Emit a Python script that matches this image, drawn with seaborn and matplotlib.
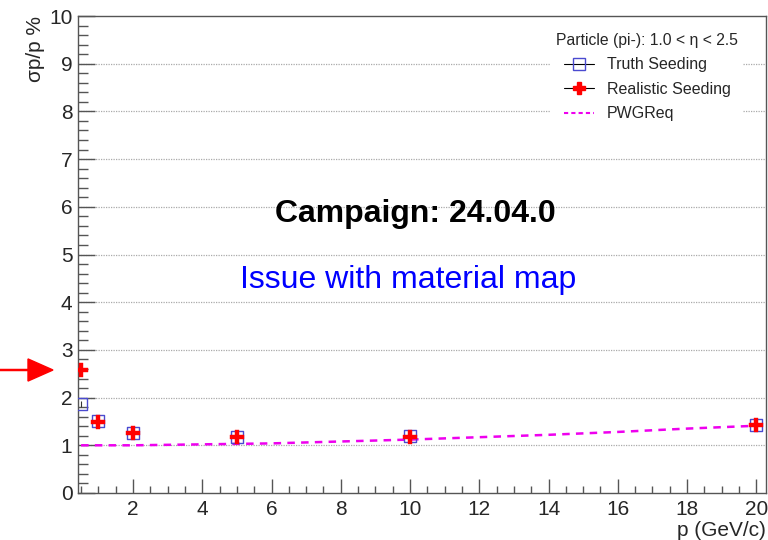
import matplotlib
matplotlib.use("Agg")
import matplotlib.pyplot as plt
from matplotlib.lines import Line2D
import seaborn as sns
import pandas as pd
import numpy as np

# ---- data ----
p_values = [0.5, 1, 2, 5, 10, 20]
truth_res = [1.86, 1.51, 1.26, 1.18, 1.19, 1.43]
truth_err = [0.06, 0.04, 0.03, 0.03, 0.03, 0.03]
real_res = [2.58, 1.48, 1.25, 1.17, 1.18, 1.42]
real_err = [0.06, 0.04, 0.03, 0.03, 0.03, 0.03]
pwg_p = [0.5, 2, 4, 6, 8, 10, 12, 14, 16, 18, 20]
pwg_res = [1.00, 1.00, 1.02, 1.04, 1.08, 1.12, 1.17, 1.22, 1.28, 1.35, 1.41]
x_ticks = [2, 4, 6, 8, 10, 12, 14, 16, 18, 20]
y_ticks = [0, 1, 2, 3, 4, 5, 6, 7, 8, 9, 10]

sns.set_theme(style="white")
plt.rcParams['font.family'] = ['Liberation Sans', 'DejaVu Sans']

fig = plt.figure(figsize=(7.68, 5.4), dpi=100)
ax = fig.add_axes([78 / 768, 1 - 493 / 540, (766 - 78) / 768, (493 - 16) / 540])

truth_col = '#4a4ad0'
real_col = '#ff0000'

df_t = pd.DataFrame({'p': p_values, 'res': truth_res})
df_r = pd.DataFrame({'p': p_values, 'res': real_res})
df_pwg = pd.DataFrame({'p': pwg_p, 'res': pwg_res})

# gridlines (horizontal only)
for yv in y_ticks[1:-1]:
    ax.axhline(yv, color='#aaaaaa', lw=0.9, ls=(0, (1, 1)), zorder=0)

sns.lineplot(data=df_pwg, x='p', y='res', ax=ax, color='#ee00ee', lw=1.8,
             linestyle=(0, (3, 2.5)), zorder=2)

ax.errorbar(p_values, truth_res, yerr=truth_err, fmt='none', ecolor='#333333', elinewidth=0.8, zorder=3)
ax.errorbar(p_values, real_res, yerr=real_err, fmt='none', ecolor='#333333', elinewidth=0.8, zorder=3)

sns.scatterplot(data=df_t, x='p', y='res', ax=ax, marker='s', s=75,
                facecolor='none', edgecolor=truth_col, linewidth=1.0, zorder=4)
sns.scatterplot(data=df_r, x='p', y='res', ax=ax, marker='P', s=95,
                color=real_col, edgecolor=real_col, linewidth=0.3, zorder=5)

ax.set_xlim(0.41, 20.28)
ax.set_ylim(0, 10)
ax.set_xticks(x_ticks)
ax.set_xticklabels([str(v) for v in x_ticks])
ax.set_yticks(y_ticks)
ax.set_yticklabels([str(v) for v in y_ticks])
ax.set_xticks(np.arange(0.5, 20.3, 0.5), minor=True)
ax.set_yticks(np.arange(0, 10.01, 0.2), minor=True)

ax.tick_params(axis='x', which='major', direction='in', length=10, width=1, color='#555555',
               labelsize=15, pad=5, bottom=True, top=False)
ax.tick_params(axis='x', which='minor', direction='in', length=5, width=1, color='#555555',
               bottom=True, top=False)
ax.tick_params(axis='y', which='major', direction='in', length=12, width=1, color='#555555',
               labelsize=15, pad=4, left=True, right=False)
ax.tick_params(axis='y', which='minor', direction='in', length=7, width=1, color='#555555',
               left=True, right=False)
for s in ax.spines.values():
    s.set_color('#555555')
    s.set_linewidth(1.0)

ax.set_xlabel('p (GeV/c)', fontsize=15, loc='right')
ax.xaxis.set_label_coords(1.0, -0.058)
ax.set_ylabel('σp/p %', fontsize=15, loc='top')
ax.yaxis.set_label_coords(-0.048, 1.0)

ax.text(10.15, 5.85, 'Campaign: 24.04.0', fontsize=23, fontweight='bold', color='black',
        ha='center', va='center', zorder=6)
ax.text(9.95, 4.47, 'Issue with material map', fontsize=23, color='#0000ff',
        ha='center', va='center', zorder=6)

handles = [
    Line2D([0], [0], color='black', lw=0.8, marker='s', markersize=8,
           markerfacecolor='none', markeredgecolor=truth_col),
    Line2D([0], [0], color='black', lw=0.8, marker='P', markersize=9,
           markerfacecolor=real_col, markeredgecolor=real_col),
    Line2D([0], [0], color='#ee00ee', lw=1.5, ls=(0, (2, 1.5))),
]
labels = ['Truth Seeding', 'Realistic Seeding', 'PWGReq']
leg = ax.legend(handles, labels, title='Particle (pi-): 1.0 < η < 2.5', loc='upper right',
                bbox_to_anchor=(0.978, 0.992), frameon=True, fontsize=11.5, title_fontsize=11.3,
                handlelength=1.9, handletextpad=0.8, labelspacing=0.6, borderpad=0.3)
leg.get_frame().set_edgecolor('none')
leg.get_frame().set_facecolor('white')
leg.get_frame().set_alpha(1.0)

# red arrow pointing to the first realistic seeding point
fig.patches.append(matplotlib.patches.FancyArrow(
    0.0, 1 - 370 / 540, 53 / 768, 0, width=0.002, head_width=0.041, head_length=25 / 768,
    length_includes_head=True, color='#ff0000', transform=fig.transFigure, figure=fig))

fig.savefig('out.png', dpi=100)
